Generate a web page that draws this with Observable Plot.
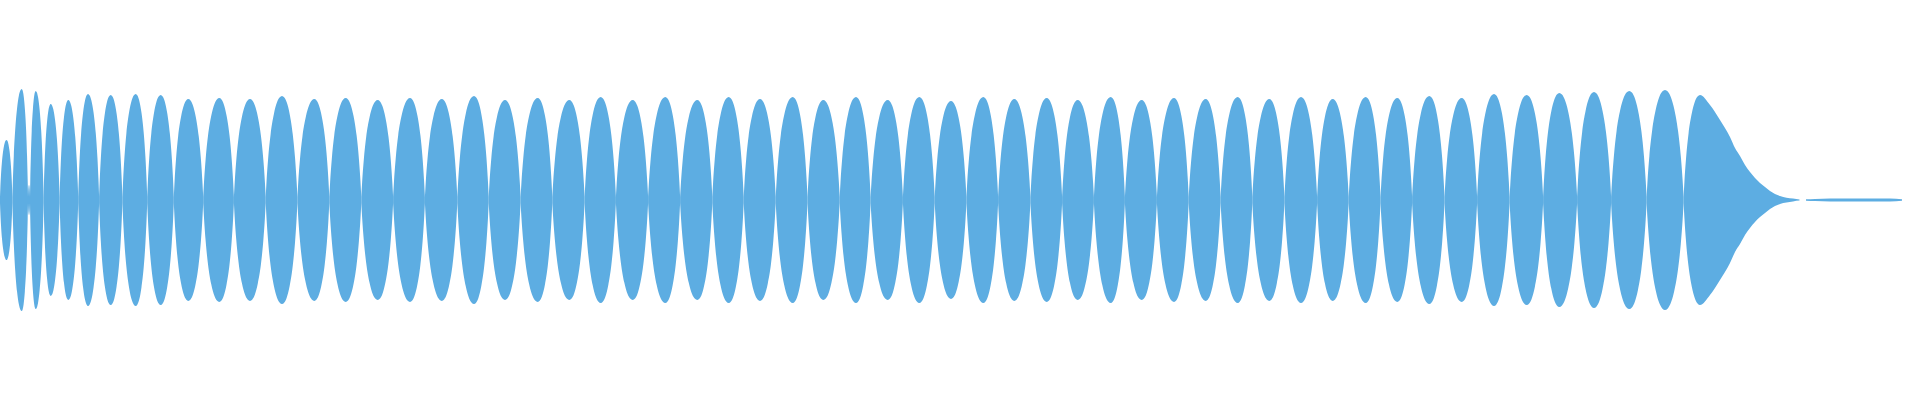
<!DOCTYPE html>
<html>
<head>
<meta charset="utf-8">
<script src="https://cdn.jsdelivr.net/npm/d3@7"></script>
<script src="https://cdn.jsdelivr.net/npm/@observablehq/plot@0.6"></script>
<style>
  html, body { margin: 0; padding: 0; background: #fff; }
  #chart svg { display: block; }
</style>
</head>
<body>
<div id="chart"></div>
<script>
// Lobe boundaries (time units) – each lobe spans boundaries[i]..boundaries[i+1]
const boundaries = [0, 12.4, 28, 30, 43.6, 59.6, 78.2, 99.1, 122.4, 147.2, 173.8, 203.2, 233.9, 265.7, 297.4,
  329.3, 361.3, 393.1, 424.9, 457.3, 488.7, 520.6, 552.3, 584.6, 615.9, 648.1, 680.1, 712.3, 743.7, 775.7,
  807.5, 839.7, 870.6, 902.9, 934.7, 966.4, 998.1, 1030.4, 1062.1, 1093.9, 1124.9, 1156.9, 1188.7, 1220.6,
  1252.3, 1284.4, 1317.1, 1348.7, 1380.5, 1412.1, 1444.5, 1477.1, 1509.6, 1543.1, 1577.1, 1611.1, 1646.6, 1683.6];
// Time of each lobe's peak
const peakTimes = [6.5, 21.7, 29, 35.7, 50.7, 68.3, 88, 110.7, 135.7, 160.7, 188.3, 219.3, 250, 282, 314.3,
  345.7, 377.7, 410, 441.8, 474, 505, 537.7, 569.3, 600.7, 632.7, 665.3, 697.3, 728.7, 760, 792.7, 823.3, 856,
  887.7, 919.3, 951, 983.3, 1014.3, 1046.7, 1077.7, 1110.7, 1141.7, 1174, 1205.7, 1237.7, 1269.3, 1301, 1332.7,
  1365.7, 1397.3, 1429.3, 1461.7, 1494, 1526.7, 1559.3, 1594, 1629.3, 1665];
// Peak amplitude of each lobe (% of full scale)
const peakAmps = [30, 55.5, 7.5, 54.5, 48, 50, 53, 52.5, 53, 52.5, 50.5, 51, 50.5, 52, 50.5, 51, 50, 51, 50.5,
  52, 50, 51, 50, 51.5, 50, 51.5, 50, 51.5, 50.5, 51.5, 50, 51.5, 50, 51.5, 49.5, 51.5, 50.5, 51, 50, 51.5, 50,
  51, 50.5, 51.5, 50.5, 51.5, 50.5, 51.5, 51, 52, 51, 53, 52.5, 53.5, 54, 54.5, 55];
// Amplitude at the zero crossings between lobes
const troughAmp = 1.5;
// Measured half-lobe profile (fraction of way from crossing to peak -> fraction of peak)
const profileX = [0, 0.05, 0.15, 0.3, 0.5, 0.7, 0.85, 1];
const profileY = [0, 0.15, 0.38, 0.62, 0.82, 0.94, 0.985, 1];
// Final decaying lobe (rises to its peak, then decays)
const lastStart = 1683.6, lastPeakT = 1700, lastPeak = 52.5;
const decayTimes = [1710, 1720, 1730, 1735, 1740, 1745, 1750, 1755, 1760, 1765, 1770, 1780, 1793, 1799.5];
const decayAmps  = [47.5, 40, 31.5, 26, 22, 17.5, 14, 11, 8.5, 6.5, 4.5, 2, 0.7, 0.3];
// Residual near-silent tail
const tailTimes = [1806, 1815, 1830, 1890, 1902];
const tailAmps  = [0.35, 0.5, 0.75, 0.75, 0.35];

const rows = [];
function halfLobe(t0, t1, peak, seg, rising) {
  const n = profileX.length;
  for (let k = 0; k < n; k++) {
    const idx = rising ? k : n - 1 - k;
    const f = profileX[idx];
    const t = rising ? t0 + (t1 - t0) * f : t1 - (t1 - t0) * f;
    if (!rising && k === 0) continue; // peak already added
    rows.push({t, v: troughAmp + (peak - troughAmp) * profileY[idx], seg});
  }
}
peakTimes.forEach((pt, i) => {
  halfLobe(boundaries[i], pt, peakAmps[i], i, true);
  halfLobe(pt, boundaries[i + 1], peakAmps[i], i, false);
});
halfLobe(lastStart, lastPeakT, lastPeak, "decay", true);
decayTimes.forEach((t, j) => rows.push({t, v: decayAmps[j], seg: "decay"}));
tailTimes.forEach((t, j) => rows.push({t, v: tailAmps[j], seg: "tail"}));

const chart = Plot.plot({
  width: 1920,
  height: 400,
  margin: 0,
  x: {domain: [0, 1920], axis: null},
  y: {domain: [-100, 100], axis: null},
  marks: [
    Plot.areaY(rows, {
      x: "t",
      y1: d => -d.v,
      y2: "v",
      z: "seg",
      curve: "monotone-x",
      fill: "#5DADE2"
    })
  ]
});
document.getElementById("chart").appendChild(chart);
</script>
</body>
</html>
